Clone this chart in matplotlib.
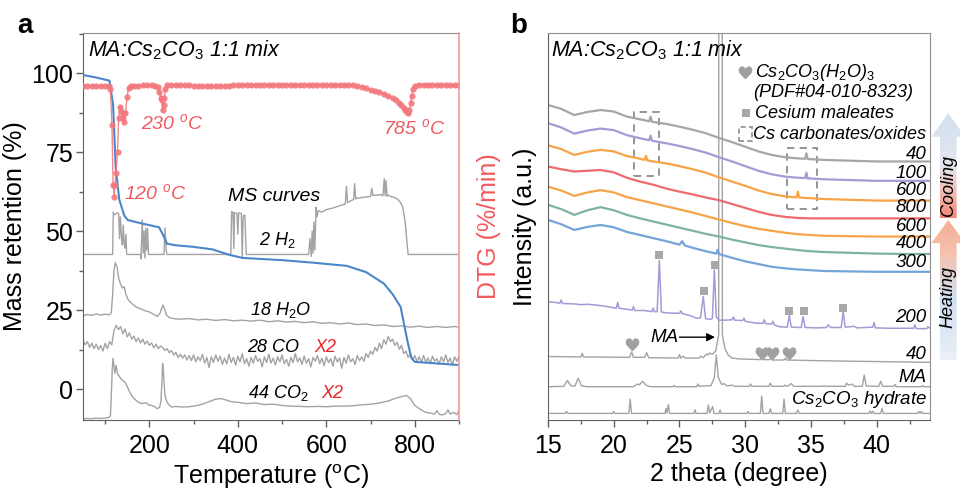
import numpy as np
import matplotlib
matplotlib.use("Agg")
import matplotlib.pyplot as plt
from matplotlib.path import Path
from matplotlib.patches import Polygon, Rectangle
from matplotlib.ticker import MultipleLocator

plt.rcParams['font.family'] = ['Liberation Sans', 'DejaVu Sans']
plt.rcParams['mathtext.fontset'] = 'custom'
plt.rcParams['mathtext.rm'] = 'Liberation Sans'
plt.rcParams['mathtext.it'] = 'Liberation Sans:italic'
plt.rcParams['mathtext.bf'] = 'Liberation Sans:bold'
plt.rcParams['mathtext.default'] = 'it'

# ---------------- Panel a data ----------------
TGA = [(50, 99.4), (80, 98.6), (110, 97.6), (118, 90), (124, 70), (132, 60), (143, 55), (151, 53.5),
       (180, 52.5), (222, 51.2), (232, 48.5), (240, 46), (260, 45.5), (300, 45), (343, 44.2),
       (380, 42.5), (411, 41.5), (500, 40.8), (570, 40), (646, 39), (690, 37), (730, 33.4),
       (750, 30), (768, 26), (783, 15.5), (792, 10), (800, 8.6), (850, 8.1), (900, 7.6)]

DTG = [(50, 96.0), (60, 96.0), (70, 96.0), (80, 95.9), (90, 95.9), (100, 96.0), (108, 95.9), (112, 95.0),
       (115.5, 83.5), (118, 64.5), (120.7, 60.9), (122, 64.6), (124.5, 68.3), (128, 75.1), (130.5, 85.7),
       (133.5, 89.3), (137, 88.0), (139.5, 85.7), (141.5, 87.0), (143.4, 84.6), (146, 87.5), (149.7, 92.5),
       (153, 95.2), (158, 95.9), (165, 96.0), (175, 96.0), (185, 96.1), (195, 96.1), (205, 96.1),
       (213, 96.0), (219, 95.5), (222.6, 94.1), (226.5, 92.0), (228, 91.5), (230, 88.3), (232, 90.0),
       (234, 92.0), (236, 95.0), (240, 96.1), (250, 96.2), (260, 96.2), (270, 96.2), (280, 96.1),
       (290, 96.1), (300, 96.0), (310, 96.0), (320, 95.9), (330, 95.8), (340, 95.8), (350, 95.8),
       (360, 95.9), (370, 95.9), (380, 96.0), (390, 96.1), (400, 96.1), (410, 96.2), (420, 96.2),
       (430, 96.2), (440, 96.2), (450, 96.2), (460, 96.2), (470, 96.2), (480, 96.2), (490, 96.2),
       (500, 96.2), (510, 96.2), (520, 96.2), (530, 96.2), (540, 96.2), (550, 96.2), (560, 96.2),
       (570, 96.2), (580, 96.2), (590, 96.2), (600, 96.2), (610, 96.2), (620, 96.2), (630, 96.2),
       (640, 96.2), (650, 96.2), (660, 96.1), (670, 95.9), (680, 95.6), (690, 95.2), (700, 94.8),
       (710, 94.4), (720, 93.9), (730, 93.3), (740, 92.7), (750, 92.0), (758, 91.4), (765, 90.6),
       (770, 89.9), (775, 89.0), (779, 88.2), (782, 87.8), (785, 87.4), (788, 88.3), (791, 90.4),
       (793, 92.6), (796, 95.0), (800, 96.0), (810, 96.3), (820, 96.3), (830, 96.3), (840, 96.2),
       (850, 96.2), (860, 96.2), (870, 96.2), (880, 96.2), (890, 96.1), (900, 96.1)]

H2 = [(50, 42.6), (117, 42.6), (118.5, 56.0), (121, 55.2), (125, 55.5), (128, 55.8), (130.5, 55.6),
      (132.5, 47.6), (134.5, 54.5), (137, 48.0), (139, 45.6), (141, 51.9), (143, 46.0), (145, 44.6),
      (147, 49.0), (148.6, 43.0), (150, 42.6), (180, 42.6), (181, 41.2), (184, 53.5), (186, 43.0),
      (188, 50.0), (190, 41.5), (192, 50.9), (194, 44.0), (196, 50.8), (198, 42.6), (233, 42.6),
      (235.5, 51.0), (238, 44.0), (240, 42.6), (384, 42.6), (386, 56.2), (389, 56.0), (391, 44.5),
      (392.5, 55.8), (398, 55.6), (400, 49.0), (402, 55.8), (408, 55.6), (410, 41.5), (412, 54.0),
      (413, 55.0), (416, 55.0), (419, 42.6), (560, 42.6), (563, 47.6), (566, 42.0), (568, 50.0),
      (570, 43.0), (572, 52.9), (574, 44.0), (577, 57.6), (579, 54.5), (582, 56.5), (590, 56.0),
      (600, 56.8), (615, 57.3), (630, 58.0), (643, 58.6), (645.5, 64.2), (648, 59.0), (655, 59.6),
      (662, 60.0), (664, 65.0), (666.5, 60.2), (670, 60.4), (680, 60.6), (690, 60.8), (700, 61.0),
      (703, 63.5), (705.5, 61.2), (708, 61.4), (715, 61.3), (722, 61.6), (728, 61.2), (731, 66.6),
      (733, 61.2), (735, 66.0), (737.5, 61.0), (740, 61.4), (745, 61.0), (755, 60.6), (762, 60.0),
      (768, 59.0), (773, 57.5), (776, 55.0), (779, 52.0), (782, 47.0), (785, 42.6), (900, 42.6)]

H2O = [(50, 23.2), (60, 23.6), (70, 23.3), (80, 23.8), (90, 23.4), (100, 23.7), (110, 23.5), (114, 24.2),
       (117, 30.0), (120, 37.5), (123, 40.0), (127, 38.6), (131, 34.8), (135, 33.2), (139, 32.0),
       (143, 32.4), (147, 30.0), (152, 28.3), (160, 27.1), (170, 26.0), (180, 25.4), (190, 24.8),
       (200, 24.4), (210, 23.6), (218, 23.0), (224, 24.0), (228, 25.6), (231, 26.6), (234, 25.4),
       (238, 23.6), (245, 22.6), (255, 22.3), (270, 22.1), (290, 22.3), (310, 21.9), (330, 22.1),
       (350, 21.7), (370, 22.0), (390, 21.6), (410, 21.8), (430, 21.5), (450, 21.8), (470, 21.3),
       (490, 21.6), (510, 21.2), (530, 21.4), (550, 21.0), (570, 21.3), (590, 20.8), (610, 21.0),
       (630, 20.6), (650, 20.9), (670, 20.4), (690, 20.6), (710, 20.1), (730, 20.3), (750, 19.8),
       (770, 20.0), (790, 19.6), (810, 19.9), (830, 19.5), (850, 19.8), (870, 19.5), (890, 19.8),
       (900, 19.6)]

CO_T = np.arange(50, 905, 5)
CO_V = [15.5, 14.0, 15.0, 13.2, 14.5, 12.8, 14.2, 12.5, 13.8, 12.0, 14.5, 12.8, 15.0, 14.0, 18.5, 20.2,
        18.8, 19.8, 17.5, 19.0, 16.5, 17.8, 15.8, 16.8, 15.0, 16.2, 14.6, 15.8, 14.2, 15.2, 13.8, 14.6,
        13.0, 14.2, 12.8, 13.6, 13.2, 12.2, 12.8, 11.5, 12.2, 10.8, 11.6, 10.0, 11.0, 9.8, 10.8, 9.2,
        10.6, 9.0, 10.8, 8.6, 10.2, 9.0, 11.0, 8.2, 10.0, 6.8, 10.2, 8.4, 10.8, 8.8, 10.4, 7.8, 9.8,
        8.0, 11.0, 8.4, 10.0, 7.6, 10.4, 8.6, 11.2, 8.0, 9.6, 7.2, 10.0, 8.2, 10.6, 8.8, 9.6, 7.0,
        10.2, 8.4, 11.0, 8.2, 9.8, 7.6, 10.2, 8.6, 10.8, 8.0, 9.4, 7.2, 10.0, 8.4, 11.2, 8.6, 9.8,
        7.8, 10.4, 8.2, 9.6, 7.0, 10.0, 8.8, 10.6, 8.0, 9.8, 7.4, 10.2, 8.4, 9.6, 7.2, 10.4, 8.6,
        9.8, 6.6, 10.0, 8.2, 10.8, 8.6, 9.6, 7.8, 10.6, 9.0, 10.2, 8.8, 11.2, 10.0, 12.0, 11.0, 13.2,
        12.0, 14.5, 12.8, 15.6, 14.2, 16.6, 15.0, 15.8, 13.8, 14.8, 12.6, 13.8, 11.2, 12.0, 10.0,
        11.2, 9.2, 10.6, 8.8, 10.2, 8.4, 10.6, 8.6, 9.8, 8.0, 10.4, 8.8, 9.6, 7.8, 10.2, 8.6, 10.8,
        8.4, 9.8, 7.6, 10.2, 8.8, 10.4]

CO2 = [(50, -9.5), (60, -9.3), (70, -9.4), (80, -9.2), (90, -9.3), (100, -9.2), (108, -9.0), (112, -8.5),
       (114, -2.0), (116, 6.0), (118, 9.7), (120, 7.5), (122, 5.0), (125, 7.5), (128, 4.9), (132, 4.0),
       (136, 3.2), (140, 2.6), (145, 2.2), (150, 0.8), (155, -0.8), (162, -2.5), (170, -3.6),
       (178, -4.4), (185, -4.6), (192, -4.3), (198, -5.0), (205, -5.2), (212, -5.6), (218, -6.2),
       (223, -5.8), (226, -4.0), (228, 1.0), (230, 8.1), (232, 5.0), (235, -1.5), (238, -3.5),
       (243, -4.8), (250, -5.7), (260, -5.5), (275, -5.7), (290, -5.6), (305, -5.3), (320, -4.8),
       (335, -4.0), (350, -3.2), (360, -3.0), (370, -3.3), (385, -4.0), (400, -4.2), (420, -4.6),
       (440, -4.4), (460, -4.9), (480, -4.8), (500, -5.2), (520, -5.4), (540, -5.5), (560, -5.6),
       (580, -5.5), (600, -5.6), (620, -5.4), (640, -5.4), (660, -5.3), (680, -5.0), (700, -4.8),
       (720, -4.4), (740, -3.8), (755, -3.0), (770, -2.4), (781, -2.0), (790, -3.0), (800, -5.2),
       (810, -6.2), (823, -7.3), (835, -7.6), (845, -7.9), (850, -6.8), (855, -8.0), (862, -8.2),
       (870, -7.8), (875, -6.6), (880, -7.9), (888, -7.4), (895, -8.1), (900, -6.8)]

# ---------------- Panel b data ----------------
XB = [15, 16, 17, 18, 19, 20, 21, 22, 23, 24, 25, 26, 27, 28, 29, 30, 31, 32, 33, 34, 35, 36, 38, 40, 42, 44.05]

X_C40 = [15, 16, 17, 18, 19, 20, 21, 22, 22.7, 22.8, 22.9, 23, 24, 25, 26, 27, 28, 29, 30, 31, 32, 33, 34,
         34.55, 34.65, 34.75, 35, 36, 38, 40, 42, 44.05]
C40 = [81.4, 80.4, 78.8, 79.6, 80.1, 79.7, 78.4, 77.7, 77.2, 78.4, 77.1, 77.0, 76.5, 75.8, 75.0, 74.1,
       72.9, 71.8, 70.6, 69.4, 68.5, 67.9, 67.6, 67.5, 68.9, 67.4, 67.4, 67.2, 67.0, 66.8, 66.8, 66.8]
C100 = [76.7, 75.6, 74.0, 74.8, 75.3, 74.9, 73.6, 72.8, 72.3, 73.5, 72.2, 72.1, 71.5, 70.8, 70.0, 69.1,
        67.9, 66.8, 65.6, 64.4, 63.5, 62.9, 62.6, 62.5, 63.9, 62.4, 62.4, 62.2, 62.0, 61.8, 61.8, 61.8]
X_C600 = [15, 16, 17, 18, 19, 20, 21, 22, 22.35, 22.45, 22.55, 23, 24, 25, 26, 27, 28, 29, 30, 31, 32, 33,
          33.9, 34.0, 34.1, 35, 36, 38, 40, 42, 44.05]
C600 = [71.0, 70.0, 68.5, 69.3, 69.8, 69.4, 68.2, 67.5, 67.2, 68.3, 67.1, 66.8, 66.3, 65.6, 64.8, 63.9,
        62.7, 61.6, 60.5, 59.3, 58.4, 57.8, 57.5, 59.0, 57.5, 57.3, 57.1, 56.9, 56.7, 56.7, 56.7]
H800 = [65.5, 64.8, 64.2, 64.4, 64.6, 64.0, 62.6, 61.6, 60.8, 59.8, 59.0, 58.3, 57.5, 56.8, 55.8, 54.8,
        53.8, 53.0, 52.5, 52.2, 52.1, 52.1, 52.1, 52.1, 52.1, 52.1]
H600 = [60.3, 59.3, 57.9, 58.8, 59.4, 58.8, 57.6, 56.8, 56.0, 55.2, 54.4, 53.6, 52.7, 51.8, 50.9, 50.1,
        49.4, 48.9, 48.4, 48.0, 47.8, 47.6, 47.5, 47.4, 47.4, 47.4]
H400 = [55.6, 54.5, 53.0, 54.2, 55.0, 54.2, 53.0, 52.1, 51.3, 50.5, 49.7, 48.9, 48.1, 47.4, 46.6, 45.9,
        45.2, 44.7, 44.3, 43.9, 43.6, 43.4, 43.2, 43.0, 42.9, 42.9]
X_H300 = [15, 16, 17, 18, 19, 20, 21, 22, 23, 24, 25, 25.2, 25.4, 26, 27, 27.8, 27.9, 28.0, 29, 30, 31, 32,
          33, 34, 35, 36, 38, 40, 42, 44.05]
H300 = [51.7, 50.6, 49.1, 49.9, 50.4, 49.8, 48.6, 47.8, 47.0, 46.2, 45.3, 46.2, 45.1, 44.5, 43.6, 43.0,
        44.0, 42.9, 41.9, 41.0, 40.3, 39.6, 39.2, 38.9, 38.7, 38.5, 38.4, 38.3, 38.3, 38.3]

H200 = [(15, 30.6), (15.9, 30.2), (16.0, 31.0), (16.1, 30.1), (17, 30.0), (17.5, 29.8), (18, 29.9),
        (18.7, 29.7), (19.5, 29.3), (20.2, 28.9), (20.3, 30.4), (20.4, 28.9), (21, 28.6), (21.4, 28.4),
        (21.5, 29.3), (21.6, 28.3), (22.3, 28.3), (22.9, 28.0), (23.0, 28.9), (23.1, 28.0), (23.3, 28.0),
        (23.47, 41.2), (23.62, 27.9), (24, 27.7), (24.5, 27.6), (25.0, 27.6), (25.1, 28.2), (25.2, 27.5),
        (25.8, 27.0), (26.3, 26.3), (26.6, 26.4), (26.81, 31.9), (26.98, 26.2), (27.3, 26.0),
        (27.5, 26.2), (27.65, 38.8), (27.8, 26.6), (28.0, 25.8), (28.5, 25.8), (29.0, 25.9),
        (29.1, 26.6), (29.2, 25.8), (29.8, 25.7), (29.9, 26.3), (30.0, 25.5), (30.87, 25.0),
        (31.35, 25.0), (31.45, 25.9), (31.55, 24.9), (32.0, 24.8), (32.1, 25.5), (32.2, 24.6),
        (32.6, 24.1), (33.2, 24.0), (33.35, 27.1), (33.5, 24.0), (34.25, 23.9), (34.4, 26.7),
        (34.55, 23.9), (35.5, 23.8), (36.2, 23.9), (36.3, 24.6), (36.5, 23.9), (37.3, 23.9),
        (37.45, 28.0), (37.6, 24.0), (38.3, 24.2), (38.5, 23.8), (39.7, 24.0), (39.8, 25.2),
        (39.9, 23.8), (41, 23.7), (42.8, 23.7), (42.9, 24.6), (43.0, 23.6), (43.8, 23.6), (43.9, 24.1),
        (44.05, 23.7)]

H40 = [(15, 16.4), (17.5, 16.3), (17.6, 17.2), (17.7, 16.3), (21.2, 16.2), (21.36, 17.6), (21.5, 16.2),
       (22.35, 16.2), (22.5, 17.4), (22.65, 16.1), (24.9, 16.0), (25.0, 16.9), (25.1, 16.0), (25.3, 16.5),
       (25.4, 16.0), (26.5, 16.0), (26.6, 16.5), (26.8, 16.1), (27.05, 17.0), (27.15, 16.8), (27.3, 17.3),
       (27.5, 17.0), (27.75, 17.8), (27.98, 22.0), (28.12, 1500.0), (28.26, 22.0), (28.45, 18.5),
       (28.7, 16.8), (29.0, 16.0), (29.5, 15.8), (31.15, 15.6), (31.25, 16.5), (31.35, 15.6),
       (31.85, 15.6), (31.95, 16.2), (32.05, 15.5), (32.95, 15.5), (33.05, 16.0), (33.15, 15.5),
       (36, 15.3), (40, 15.1), (44.05, 14.9)]

MA = [(15, 8.6), (16.2, 8.7), (16.47, 10.2), (16.75, 8.8), (17.05, 8.8), (17.3, 10.8), (17.55, 8.8),
      (18, 8.6), (21.5, 8.6), (21.8, 9.3), (21.95, 9.1), (22.2, 10.0), (22.45, 9.0), (22.8, 8.6),
      (24.5, 8.6), (24.6, 8.9), (24.7, 8.6), (26.3, 8.6), (26.4, 9.3), (26.5, 8.7), (27.4, 8.9),
      (27.65, 11.0), (27.8, 16.8), (27.95, 11.0), (28.2, 9.2), (28.4, 9.4), (28.6, 8.8), (29.0, 9.0),
      (29.2, 8.7), (30.3, 8.7), (30.4, 9.3), (30.5, 8.7), (31.8, 8.7), (31.9, 9.5), (32.05, 8.7),
      (32.9, 8.7), (33.0, 9.0), (33.2, 8.7), (33.5, 9.4), (33.7, 8.7), (35.9, 8.7), (36.0, 8.9),
      (36.1, 8.7), (37.6, 8.7), (37.7, 9.5), (37.85, 9.0), (38.1, 9.3), (38.3, 8.7), (38.9, 8.7),
      (39.05, 11.6), (39.2, 8.8), (40.15, 8.7), (40.3, 10.0), (40.45, 8.7), (41.3, 8.7), (41.4, 9.2),
      (41.5, 8.6), (43.4, 8.6), (43.5, 8.9), (43.6, 8.6), (44.05, 8.6)]

CSH = [(15, 1.7), (16.3, 1.7), (16.4, 2.2), (16.5, 1.7), (19.9, 1.7), (20.0, 2.2), (20.1, 1.7),
       (21.15, 1.7), (21.25, 5.4), (21.35, 1.7), (23.9, 1.7), (23.97, 3.0), (24.05, 1.8), (24.15, 4.0),
       (24.25, 1.7), (26.1, 1.7), (26.18, 2.6), (26.26, 1.7), (27.1, 1.7), (27.19, 3.9), (27.3, 1.8),
       (27.52, 3.5), (27.62, 1.7), (28.0, 1.7), (28.08, 2.6), (28.16, 1.7), (30.1, 1.7), (30.2, 2.2),
       (30.3, 1.7), (31.15, 1.7), (31.25, 6.2), (31.35, 1.7), (31.8, 1.7), (31.9, 2.9), (32.0, 1.7),
       (32.85, 1.7), (32.95, 5.4), (33.05, 1.7), (33.9, 1.7), (34.0, 2.6), (34.1, 1.7), (39.4, 1.7),
       (39.5, 2.3), (39.6, 1.7), (39.7, 2.3), (39.8, 1.7), (40.3, 1.7), (40.4, 3.0), (40.5, 1.7),
       (43.1, 1.7), (43.2, 2.2), (43.3, 1.7), (43.4, 2.2), (43.5, 1.7), (44.05, 1.7)]

SQ_X = [23.45, 26.88, 27.68, 33.35, 34.45, 37.45]
SQ_Y = [42.6, 33.3, 40.0, 28.2, 28.2, 28.9]
HEART_X = [21.36, 31.25, 32.05, 33.3]
HEART_Y = [19.6, 17.4, 17.4, 17.4]

CURVE_LABELS = ['40', '100', '600', '800', '600', '400', '300', '200', '40', 'MA', 'Cs$_2$CO$_3$ hydrate']
LABEL_Y = [68.5, 63.8, 59.4, 54.8, 50.1, 45.7, 40.8, 26.4, 16.8, 11.1, 5.2]

# ---------------- styling ----------------
GRAY = '#a3a3a3'
RED = '#f05a5f'
SPINE = '#606060'
FS_TICK = 18
FS_LAB = 18

fig = plt.figure(figsize=(9.6, 4.91), dpi=100)
W, H = 960.0, 491.0

def fax(l, t, r, b):
    return [l / W, 1 - b / H, (r - l) / W, (b - t) / H]

# ================= Panel a =================
ax = fig.add_axes(fax(83, 33, 459, 420))
ax.set_xlim(50, 900)
ax.set_ylim(-9.8, 112.7)

x, y = zip(*H2)
ax.plot(x, y, color=GRAY, lw=1.0)
x, y = zip(*H2O)
ax.plot(x, y, color=GRAY, lw=1.0)
ax.plot(CO_T, CO_V, color=GRAY, lw=1.0)
x, y = zip(*CO2)
ax.plot(x, y, color=GRAY, lw=1.0)
x, y = zip(*TGA)
ax.plot(x, y, color='#4a86c8', lw=1.5, zorder=5)

ax2 = ax.twinx()
ax2.set_ylim(-9.8, 112.7)
x, y = zip(*DTG)
ax2.plot(x, y, color='#f3787d', lw=1.0, marker='o', ms=4.5, mew=0, alpha=0.9)
ax2.set_yticks([])
for s in ['left', 'top', 'bottom']:
    ax2.spines[s].set_visible(False)
ax2.spines['right'].set_color('#f29a9a')
ax2.spines['right'].set_linewidth(1.2)
ax2.set_ylabel('DTG (%/min)', color=RED, fontsize=FS_LAB, labelpad=13)

ax.spines['right'].set_visible(False)
for s in ['left', 'bottom', 'top']:
    ax.spines[s].set_color(SPINE)
ax.spines['top'].set_color('#909090')
ax.set_xticks([200, 400, 600, 800])
ax.xaxis.set_minor_locator(MultipleLocator(100))
ax.set_yticks([0, 25, 50, 75, 100])
ax.yaxis.set_minor_locator(MultipleLocator(12.5))
ax.tick_params(axis='both', which='major', direction='out', length=5, width=1, color=SPINE,
               labelsize=FS_TICK, pad=2)
ax.tick_params(axis='both', which='minor', direction='out', length=3, width=1, color=SPINE)
ax.tick_params(axis='x', which='major', pad=5)
ax.set_xlabel('Temperature ($^{\\rm o}$C)', fontsize=FS_LAB, labelpad=3)
ax.set_ylabel('Mass retention (%)', fontsize=FS_LAB, labelpad=3)

ax.text(0.013, 0.956, 'MA:Cs$_2$CO$_3$ 1:1 mix', transform=ax.transAxes, fontsize=15.5,
        style='italic', va='center', ha='left')
ax.text(143.4, 62.0, '120 $^o$C', color=RED, fontsize=14, style='italic', va='center', ha='left')
ax.text(182, 84.2, '230 $^o$C', color=RED, fontsize=14, style='italic', va='center', ha='left')
ax.text(727.7, 82.6, '785 $^o$C', color=RED, fontsize=14, style='italic', va='center', ha='left')
ax.text(377, 60.8, 'MS curves', fontsize=14, style='italic', va='center', ha='left')
ax.text(449, 47.1, '2 H$_2$', fontsize=13, style='italic', va='center', ha='left')
ax.text(426.5, 25.0, '18 H$_2$O', fontsize=13, style='italic', va='center', ha='left')
ax.text(422, 13.3, '28 CO', fontsize=13, style='italic', va='center', ha='left')
ax.text(573.7, 13.3, 'X2', fontsize=13, style='italic', va='center', ha='left', color='#e8262a')
ax.text(422, -1.3, '44 CO$_2$', fontsize=13, style='italic', va='center', ha='left')
ax.text(589.6, -1.3, 'X2', fontsize=13, style='italic', va='center', ha='left', color='#e8262a')

fig.text(17 / W, 1 - 26 / H, 'a', fontsize=20, fontweight='bold', va='center', ha='left')
fig.text(510 / W, 1 - 26 / H, 'b', fontsize=20, fontweight='bold', va='center', ha='left')

# ================= Panel b =================
bx = fig.add_axes(fax(548, 33, 930, 420))
bx.set_xlim(15, 44.05)
bx.set_ylim(0, 100)

x, y = zip(*CSH)
bx.plot(x, y, color=GRAY, lw=1.0)
x, y = zip(*MA)
bx.plot(x, y, color=GRAY, lw=1.0)
x, y = zip(*H40)
bx.plot(x, y, color=GRAY, lw=1.0)
x, y = zip(*H200)
bx.plot(x, y, color='#a39bd6', lw=1.1)
bx.plot(X_H300, H300, color='#74a4da', lw=1.6)
bx.plot(XB, H400, color='#7db3a2', lw=1.6)
bx.plot(XB, H600, color='#f6a447', lw=1.6)
bx.plot(XB, H800, color='#ef6a6f', lw=1.6)
bx.plot(X_C600, C600, color='#f6a447', lw=1.6)
bx.plot(X_C40, C100, color='#a39bd6', lw=1.6)
bx.plot(X_C40, C40, color='#a6a6a6', lw=1.6)

bx.plot(SQ_X, SQ_Y, ls='none', marker='s', ms=6, color='#a8a8a8', mew=0)

hv = [(0, -1), (-0.55, -0.45), (-0.9, -0.05), (-1.0, 0.35), (-0.85, 0.75), (-0.5, 0.9), (-0.2, 0.8),
      (0, 0.55), (0.2, 0.8), (0.5, 0.9), (0.85, 0.75), (1.0, 0.35), (0.9, -0.05), (0.55, -0.45), (0, -1)]
heart = Path(hv, [Path.MOVETO] + [Path.LINETO] * (len(hv) - 2) + [Path.CLOSEPOLY])
bx.plot(HEART_X, HEART_Y, ls='none', marker=heart, ms=10, color='#a0a0a0', mew=0)

# dashed boxes
bx.add_patch(Rectangle((21.57, 63.0), 23.44 - 21.57, 79.7 - 63.0, fill=False, ls=(0, (4, 3)),
                       lw=1.3, ec='#8c8c8c'))
bx.add_patch(Rectangle((33.15, 54.4), 35.43 - 33.15, 70.2 - 54.4, fill=False, ls=(0, (4, 3)),
                       lw=1.3, ec='#8c8c8c'))

for lab, yy in zip(CURVE_LABELS, LABEL_Y):
    bx.text(43.8, yy, lab, fontsize=13.5, style='italic', ha='right', va='center')

bx.text(24.9, 21.4, 'MA', fontsize=13.5, style='italic', ha='right', va='center')
bx.annotate('', xy=(27.7, 21.4), xytext=(25.0, 21.4),
            arrowprops=dict(arrowstyle='-|>', color='black', lw=1.0, mutation_scale=12,
                            shrinkA=0, shrinkB=0))

# legend (manual)
bx.plot([0.516], [0.899], transform=bx.transAxes, marker=heart, ms=10, color='#a0a0a0', mew=0,
        ls='none', clip_on=False)
bx.text(0.542, 0.899, 'Cs$_2$CO$_3$(H$_2$O)$_3$', transform=bx.transAxes, fontsize=13,
        style='italic', ha='left', va='center')
bx.text(0.537, 0.846, '(PDF#04-010-8323)', transform=bx.transAxes, fontsize=13,
        style='italic', ha='left', va='center')
bx.plot([0.518], [0.793], transform=bx.transAxes, marker='s', ms=6, color='#a8a8a8', mew=0,
        ls='none', clip_on=False)
bx.text(0.542, 0.793, 'Cesium maleates', transform=bx.transAxes, fontsize=13,
        style='italic', ha='left', va='center')
bx.add_patch(Rectangle((0.500, 0.722), 0.034, 0.034, transform=bx.transAxes, fill=False,
                       ls=(0, (3, 2)), lw=1.2, ec='#8c8c8c'))
bx.text(0.537, 0.739, 'Cs carbonates/oxides', transform=bx.transAxes, fontsize=13,
        style='italic', ha='left', va='center')
bx.text(0.008, 0.956, 'MA:Cs$_2$CO$_3$ 1:1 mix', transform=bx.transAxes, fontsize=15.5,
        style='italic', va='center', ha='left')

bx.set_yticks([])
bx.set_xticks([15, 20, 25, 30, 35, 40])
bx.xaxis.set_minor_locator(MultipleLocator(2.5))
for s in ['left', 'bottom', 'top', 'right']:
    bx.spines[s].set_color(SPINE)
bx.spines['top'].set_color('#909090')
bx.spines['right'].set_color('#909090')
bx.tick_params(axis='x', which='major', direction='out', length=5, width=1, color=SPINE,
               labelsize=FS_TICK, pad=5)
bx.tick_params(axis='x', which='minor', direction='out', length=3, width=1, color=SPINE)
bx.set_xlabel('2 theta (degree)', fontsize=FS_LAB, labelpad=3)
bx.set_ylabel('Intensity (a.u.)', fontsize=FS_LAB, labelpad=8)

# ================= Heating / Cooling arrows =================
ov = fig.add_axes([0, 0, 1, 1])
ov.set_xlim(0, W)
ov.set_ylim(H, 0)
ov.axis('off')

def grad_arrow(y_tail, y_base, y_tip, stops):
    verts = [(940, y_tail), (940, y_base), (931.5, y_base), (948.3, y_tip), (965, y_base),
             (956.6, y_base), (956.6, y_tail)]
    poly = Polygon(verts, closed=True, transform=ov.transData, fc='none', ec='none')
    ov.add_patch(poly)
    n = 200
    pos = np.linspace(0, 1, n)
    cols = np.array([matplotlib.colors.to_rgb(c) for _, c in stops])
    sp = np.array([p for p, _ in stops])
    img = np.stack([np.interp(pos, sp, cols[:, k]) for k in range(3)], axis=-1)[:, None, :]
    im = ov.imshow(img, extent=(930, 966, y_tail, y_tip), aspect='auto', origin='upper',
                   interpolation='bilinear')
    im.set_clip_path(poly)

grad_arrow(360, 243, 220, [(0.0, '#f7ad93'), (0.25, '#f4c3b0'), (0.55, '#cfdff0'), (1.0, '#eaf0f7')])
grad_arrow(218.3, 136.7, 113.3, [(0.0, '#d3e1f0'), (0.5, '#e3e6ee'), (0.8, '#f3b3a6'), (1.0, '#f08577')])
ov.set_xlim(0, W)
ov.set_ylim(H, 0)
ov.text(948.3, 185, 'Cooling', rotation=90, fontsize=13, style='italic', ha='center', va='center')
ov.text(948.3, 297, 'Heating', rotation=90, fontsize=13, style='italic', ha='center', va='center')

fig.savefig('out.png', dpi=100)
